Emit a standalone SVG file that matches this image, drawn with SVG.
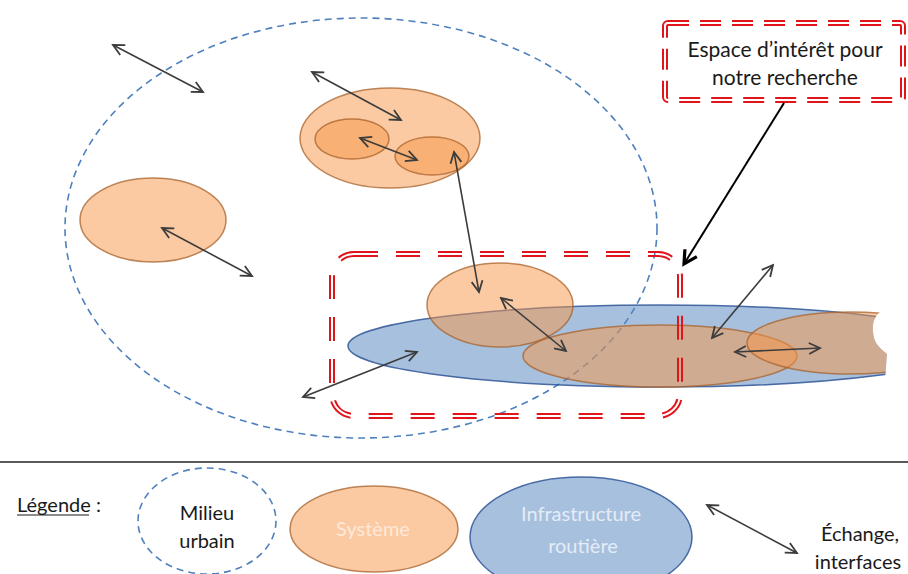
<svg xmlns="http://www.w3.org/2000/svg" width="908" height="574" viewBox="0 0 908 574">
<style>
.milieu{fill:none;stroke:#4f81bd;stroke-width:1.6;stroke-dasharray:7 5}
.sys{fill:#f79646;fill-opacity:0.5;stroke:#a8612a;stroke-opacity:0.75;stroke-width:1.5}
.infra{fill:#4f81bd;fill-opacity:0.5;stroke:#2f5597;stroke-opacity:0.85;stroke-width:1.5}
.arr{fill:none;stroke:#3c3c3c;stroke-width:1.6;marker-start:url(#ah);marker-end:url(#ah)}
.red{fill:none;stroke:#e0141b;stroke-width:6}
.t{font-family:Lato,"Liberation Sans",sans-serif;fill:#1a1a1a}
.tl{font-family:Lato,"Liberation Sans",sans-serif}
</style>
<defs>
<marker id="ah" viewBox="0 0 14 14" refX="12" refY="7" markerWidth="14" markerHeight="14" markerUnits="userSpaceOnUse" orient="auto-start-reverse">
<path d="M1,1.5 L12,7 L1,12.5" fill="none" stroke="#3c3c3c" stroke-width="1.8"/>
</marker>
<marker id="bh" viewBox="0 0 18 18" refX="15" refY="9" markerWidth="18" markerHeight="18" markerUnits="userSpaceOnUse" orient="auto">
<path d="M2,2 L15,9 L2,16" fill="none" stroke="#000" stroke-width="3.2"/>
</marker>
<clipPath id="cut">
<path d="M0,0 H908 V300 H880 V312 C876,316 872,320 873,332 C874,344 880,348 887,354 L885,380 L882,396 H908 V574 H0 Z"/>
</clipPath>
<mask id="m1" maskUnits="userSpaceOnUse" x="0" y="0" width="908" height="574">
<rect x="0" y="0" width="908" height="574" fill="#fff"/>
<rect x="332" y="254" width="348" height="162" rx="22" fill="none" stroke="#000" stroke-width="2"/>
</mask>
<mask id="m2" maskUnits="userSpaceOnUse" x="0" y="0" width="908" height="574">
<rect x="0" y="0" width="908" height="574" fill="#fff"/>
<rect x="665" y="23" width="238" height="77" rx="3" fill="none" stroke="#000" stroke-width="2"/>
</mask>
</defs>
<rect width="908" height="574" fill="#fff"/>

<g id="milieu-urbain">
<ellipse class="milieu" cx="361" cy="228" rx="296" ry="210"/>
</g>

<g id="infrastructure-routiere">
<ellipse class="infra" cx="660" cy="346" rx="312" ry="41" clip-path="url(#cut)"/>
</g>

<g id="systeme-gauche">
<ellipse class="sys" cx="153" cy="220" rx="73" ry="42"/>
</g>
<g id="systeme-haut">
<ellipse class="sys" cx="390" cy="138" rx="90" ry="50"/>
<ellipse class="sys" cx="352" cy="139" rx="37" ry="20"/>
<ellipse class="sys" cx="432" cy="156" rx="37" ry="19"/>
</g>
<g id="systeme-milieu">
<ellipse class="sys" cx="500" cy="305" rx="73" ry="42"/>
</g>
<g id="systeme-droite">
<ellipse class="sys" cx="660" cy="356" rx="137" ry="31"/>
</g>
<g id="systeme-extreme-droite">
<ellipse class="sys" cx="850" cy="343" rx="103" ry="31" clip-path="url(#cut)"/>
</g>

<g id="espace-interet">
<rect class="red" x="332" y="254" width="348" height="162" rx="22" stroke-dasharray="24 18" mask="url(#m1)"/>
</g>

<g id="legende-espace">
<rect class="red" x="665" y="23" width="238" height="77" rx="3" stroke-dasharray="21 11" mask="url(#m2)"/>
<text class="t" font-size="21" text-anchor="middle" x="785" y="57">Espace d’intérêt pour</text>
<text class="t" font-size="21" text-anchor="middle" x="785" y="85">notre recherche</text>
</g>

<g id="connecteurs">
<line class="arr" x1="113" y1="45" x2="203" y2="92"/>
<line class="arr" x1="162" y1="228" x2="252" y2="276"/>
<line class="arr" x1="312" y1="72" x2="401" y2="120"/>
<line class="arr" x1="360" y1="138" x2="417" y2="160"/>
<line class="arr" x1="454" y1="152" x2="479" y2="292"/>
<line class="arr" x1="501" y1="298" x2="566" y2="351"/>
<line class="arr" x1="303" y1="397" x2="417" y2="352"/>
<line class="arr" x1="712" y1="338" x2="773" y2="265"/>
<line class="arr" x1="735" y1="352" x2="820" y2="348"/>
<line x1="784" y1="103" x2="684" y2="264" stroke="#000" stroke-width="2" marker-end="url(#bh)"/>
</g>

<g id="legende">
<line x1="0" y1="462" x2="908" y2="462" stroke="#222" stroke-width="1.3"/>
<text class="t" font-size="20" x="17" y="512">Légende :</text>
<line x1="17" y1="515" x2="89" y2="515" stroke="#1a1a1a" stroke-width="1.2"/>
<g id="leg-milieu">
<ellipse class="milieu" cx="207" cy="521" rx="69" ry="53"/>
<text class="t" font-size="20" text-anchor="middle" x="207" y="520">Milieu</text>
<text class="t" font-size="20" text-anchor="middle" x="207" y="548">urbain</text>
</g>
<g id="leg-systeme">
<ellipse class="sys" cx="374" cy="529" rx="84" ry="43"/>
<text class="tl" font-size="20" text-anchor="middle" x="373" y="536" fill="#fde9d9">Système</text>
</g>
<g id="leg-infra">
<ellipse class="infra" cx="581" cy="537" rx="111" ry="60"/>
<text class="tl" font-size="20" text-anchor="middle" x="581" y="521" fill="#e4ecf6">Infrastructure</text>
<text class="tl" font-size="20" text-anchor="middle" x="583" y="553" fill="#e4ecf6">routière</text>
</g>
<g id="leg-echange">
<line class="arr" x1="707" y1="505" x2="797" y2="553"/>
<text class="t" font-size="20" text-anchor="middle" x="860" y="541">Échange,</text>
<text class="t" font-size="20" text-anchor="middle" x="858" y="569">interfaces</text>
</g>
</g>
</svg>
